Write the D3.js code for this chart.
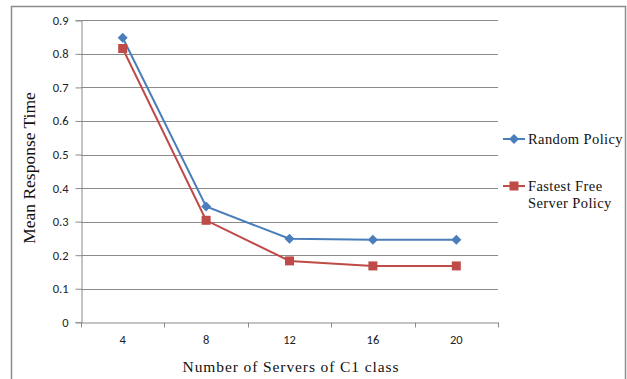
<!DOCTYPE html>
<html>
<head>
<meta charset="utf-8">
<script src="https://cdn.jsdelivr.net/npm/d3@7/dist/d3.min.js"></script>
<style>
  html, body { margin: 0; padding: 0; background: #fff; }
  svg { display: block; }
</style>
</head>
<body>
<svg id="chart" width="627" height="379"></svg>
<script>
// Mean response time vs. number of C1-class servers
const categories = ["4", "8", "12", "16", "20"];
const randomPolicy = [0.848, 0.345, 0.249, 0.246, 0.246];
const fastestFreePolicy = [0.816, 0.304, 0.183, 0.168, 0.168];
const yTicks = [0, 0.1, 0.2, 0.3, 0.4, 0.5, 0.6, 0.7, 0.8, 0.9];
const seriesNames = ["Random Policy", "Fastest Free Server Policy"];

const svg = d3.select("#chart");
const plot = { left: 81, right: 498, top: 20.3, bottom: 322.3 };

const x = d3.scaleBand().domain(categories).range([plot.left, plot.right]);
const y = d3.scaleLinear().domain([0, 0.9]).range([plot.bottom, plot.top]);

// outer frame (top, left and right edges)
svg.append("path")
  .attr("d", `M11.5,379 V6.5 H625.5 V379`)
  .attr("fill", "none").attr("stroke", "#8c8c8c").attr("stroke-width", 1.5);

// horizontal gridlines
svg.append("g").selectAll("line").data(yTicks.filter(d => d > 0)).join("line")
  .attr("x1", plot.left).attr("x2", plot.right)
  .attr("y1", d => Math.round(y(d)) + 0.5).attr("y2", d => Math.round(y(d)) + 0.5)
  .attr("stroke", "#8a8a8a").attr("stroke-width", 1);

const tickFont = "Carlito, 'Open Sans', 'Liberation Sans', Arial, sans-serif";

// y axis
const yAxis = svg.append("g")
  .attr("transform", `translate(${plot.left + 0.5},0)`)
  .call(d3.axisLeft(y).tickValues(yTicks).tickSize(6).tickPadding(7)
    .tickFormat(d => d === 0 ? "0" : d3.format(".1f")(d)));
yAxis.select(".domain").attr("stroke", "#8a8a8a");
yAxis.selectAll(".tick line").attr("stroke", "#8a8a8a");
yAxis.selectAll(".tick text")
  .attr("font-family", tickFont)
  .attr("font-size", 12.5).attr("fill", "#222");

// x axis
const xAxis = svg.append("g")
  .attr("transform", `translate(0,${Math.round(plot.bottom) + 0.5})`)
  .call(d3.axisBottom(x).tickSize(0).tickPadding(13));
xAxis.select(".domain").attr("stroke", "#8a8a8a");
xAxis.selectAll(".tick text")
  .attr("font-family", tickFont)
  .attr("font-size", 12.5).attr("fill", "#222");
// category boundary ticks
const bounds = categories.map(c => x(c)).concat([plot.right]);
xAxis.selectAll(".bound").data(bounds).join("line").attr("class", "bound")
  .attr("x1", d => Math.round(d) + 0.5).attr("x2", d => Math.round(d) + 0.5)
  .attr("y1", 0).attr("y2", 5).attr("stroke", "#8a8a8a");

// axis titles
svg.append("text")
  .attr("transform", `translate(35,168) rotate(-90)`)
  .attr("text-anchor", "middle")
  .attr("font-family", "'Liberation Serif', 'DejaVu Serif', serif")
  .attr("font-size", 17.5).attr("fill", "#111")
  .text("Mean Response Time");

svg.append("text")
  .attr("x", 291).attr("y", 372)
  .attr("text-anchor", "middle")
  .attr("font-family", "'Liberation Serif', 'DejaVu Serif', serif")
  .attr("font-size", 15.5).attr("letter-spacing", 0.9).attr("fill", "#111")
  .text("Number of Servers of C1 class");

// series
const colors = ["#4a7ebb", "#be4b48"];
const cx = c => x(c) + x.bandwidth() / 2;
const line = d3.line().x(d => cx(d.c)).y(d => y(d.v));
const series = [randomPolicy, fastestFreePolicy].map((vals, i) =>
  vals.map((v, j) => ({ c: categories[j], v })));

series.forEach((pts, i) => {
  svg.append("path").datum(pts)
    .attr("d", line).attr("fill", "none")
    .attr("stroke", colors[i]).attr("stroke-width", 2);
});

const diamond = s => `M0,${-s} L${s},0 L0,${s} L${-s},0 Z`;
function drawMarker(g, i) {
  if (i === 0) {
    g.append("path").attr("d", diamond(5)).attr("fill", colors[0]);
  } else {
    g.append("rect").attr("x", -4.5).attr("y", -4.5).attr("width", 9).attr("height", 9)
      .attr("fill", colors[1]);
  }
}
series.forEach((pts, i) => {
  pts.forEach(p => {
    const g = svg.append("g").attr("transform", `translate(${cx(p.c)},${y(p.v)})`);
    drawMarker(g, i);
  });
});

// legend
const legendY = [139, 186];
seriesNames.forEach((name, i) => {
  const g = svg.append("g").attr("transform", `translate(503,${legendY[i]})`);
  g.append("line").attr("x1", 0).attr("x2", 22).attr("y1", 0).attr("y2", 0)
    .attr("stroke", colors[i]).attr("stroke-width", 2);
  const m = g.append("g").attr("transform", "translate(11,0)");
  drawMarker(m, i);
  const t = g.append("text")
    .attr("x", 25).attr("y", 5)
    .attr("font-family", "'Liberation Serif', 'DejaVu Serif', serif")
    .attr("font-size", 14.5).attr("letter-spacing", 0.4).attr("fill", "#111");
  if (i === 0) {
    t.text(name);
  } else {
    t.append("tspan").attr("x", 25).attr("dy", 0).text("Fastest Free");
    t.append("tspan").attr("x", 25).attr("dy", 17).text("Server Policy");
  }
});
</script>
</body>
</html>
